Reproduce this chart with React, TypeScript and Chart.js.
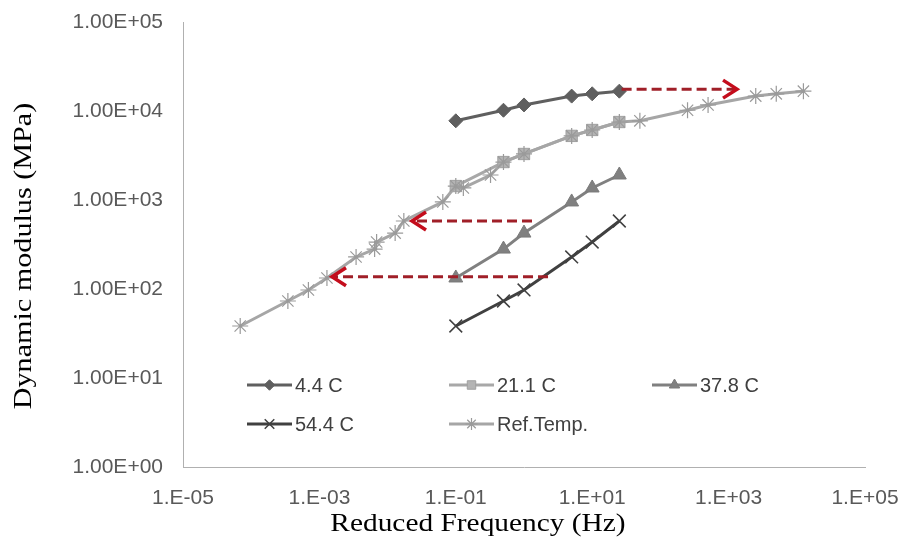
import React, { useEffect, useRef } from 'react';
import { Chart, registerables } from 'chart.js';

Chart.register(...registerables);

// ---------- data ----------
const freqHz = [0.1, 0.5, 1, 5, 10, 25];
const modulus4_4C = [7760, 10200, 11700, 14700, 15600, 16700];
const modulus21_1C = [1435, 2670, 3290, 5250, 6120, 7520];
const modulus37_8C = [133, 281, 425, 951, 1365, 1910];
const modulus54_4C = [38.4, 73.3, 97.5, 229, 337, 581];

const refFreq = [
  6.9e-5, 3.45e-4, 6.9e-4, 1.29e-3, 3.45e-3, 6.45e-3, 6.9e-3, 1.29e-2, 1.73e-2, 6.45e-2,
  0.1, 0.129, 0.323, 0.5, 1, 5, 10, 25, 50, 250, 500, 2500, 5000, 12500,
];
const refModulus = [
  38.4, 73.3, 97.5, 133, 229, 281, 337, 425, 581, 951,
  1435, 1365, 1910, 2670, 3290, 5250, 6120, 7520, 7760, 10200, 11700, 14700, 15600, 16700,
];

const arrowStartX = [27, 1.31, 2.25];
const arrowEndX = [1330, 0.0228, 1.53e-3];
const arrowY = [17600, 581, 137];

const seriesNames = ['4.4 C', '21.1 C', '37.8 C', '54.4 C', 'Ref.Temp.'];

const xTickValues = [1e-5, 1e-3, 1e-1, 1e1, 1e3, 1e5];
const xTickLabels = ['1.E-05', '1.E-03', '1.E-01', '1.E+01', '1.E+03', '1.E+05'];
const yTickValues = [1, 10, 100, 1000, 10000, 100000];
const yTickLabels = ['1.00E+00', '1.00E+01', '1.00E+02', '1.00E+03', '1.00E+04', '1.00E+05'];

const xTitle = 'Reduced Frequency (Hz)';
const yTitle = 'Dynamic modulus (MPa)';

// ---------- styles ----------
const seriesStyles = [
  { line: '#5f5f5f', fill: '#5f5f5f', stroke: '#5f5f5f', point: 'rectRot', radius: 7, pbw: 1 },
  { line: '#a8a8a8', fill: '#b4b4b4', stroke: '#a0a0a0', point: 'rect', radius: 8, pbw: 1 },
  { line: '#808080', fill: '#808080', stroke: '#7a7a7a', point: 'triangle', radius: 8, pbw: 1 },
  { line: '#404040', fill: '#404040', stroke: '#404040', point: 'crossRot', radius: 9, pbw: 1.5 },
  { line: '#a6a6a6', fill: '#a0a0a0', stroke: '#9a9a9a', point: 'star', radius: 8, pbw: 1.2 },
];
const legendPos = [
  { x: 247, y: 385 },
  { x: 449, y: 385 },
  { x: 652, y: 385 },
  { x: 247, y: 424 },
  { x: 449, y: 424 },
];

function toPts(xs: number[], ys: number[]) {
  return xs.map((x, i) => ({ x, y: ys[i] }));
}

function drawMarker(ctx: CanvasRenderingContext2D, style: string, x: number, y: number, r: number, fill: string, stroke: string, lw: number) {
  ctx.save();
  ctx.fillStyle = fill;
  ctx.strokeStyle = stroke;
  ctx.lineWidth = lw;
  ctx.beginPath();
  if (style === 'rectRot') {
    ctx.moveTo(x, y - r); ctx.lineTo(x + r, y); ctx.lineTo(x, y + r); ctx.lineTo(x - r, y); ctx.closePath();
    ctx.fill(); ctx.stroke();
  } else if (style === 'rect') {
    const s = r * Math.SQRT1_2;
    ctx.rect(x - s, y - s, 2 * s, 2 * s); ctx.fill(); ctx.stroke();
  } else if (style === 'triangle') {
    const h = r * 0.866;
    ctx.moveTo(x, y - r); ctx.lineTo(x + h, y + r / 2); ctx.lineTo(x - h, y + r / 2); ctx.closePath();
    ctx.fill(); ctx.stroke();
  } else if (style === 'crossRot' || style === 'star') {
    const d = r * Math.SQRT1_2;
    ctx.moveTo(x - d, y - d); ctx.lineTo(x + d, y + d);
    ctx.moveTo(x + d, y - d); ctx.lineTo(x - d, y + d);
    if (style === 'star') {
      ctx.moveTo(x, y - r); ctx.lineTo(x, y + r);
      ctx.moveTo(x - r, y); ctx.lineTo(x + r, y);
    }
    ctx.stroke();
  }
  ctx.restore();
}

const decorPlugin = {
  id: 'decor',
  afterDatasetsDraw(chart: any) {
    const ctx: CanvasRenderingContext2D = chart.ctx;
    chart.data.datasets.forEach((ds: any, i: number) => {
      if (!ds.isArrow) return;
      const meta = chart.getDatasetMeta(i);
      const p0 = meta.data[0];
      const p1 = meta.data[1];
      if (!p0 || !p1) return;
      const dir = p1.x > p0.x ? 1 : -1;
      ctx.save();
      ctx.strokeStyle = '#c40d1c';
      ctx.lineWidth = 3.5;
      ctx.lineJoin = 'miter';
      ctx.beginPath();
      ctx.moveTo(p1.x - dir * 14, p1.y - 9);
      ctx.lineTo(p1.x, p1.y);
      ctx.lineTo(p1.x - dir * 14, p1.y + 9);
      ctx.stroke();
      ctx.restore();
    });
  },
  afterDraw(chart: any) {
    const ctx: CanvasRenderingContext2D = chart.ctx;
    // legend
    ctx.save();
    seriesNames.forEach((name, i) => {
      const st = seriesStyles[i];
      const p = legendPos[i];
      ctx.strokeStyle = st.line;
      ctx.lineWidth = 3;
      ctx.beginPath();
      ctx.moveTo(p.x, p.y);
      ctx.lineTo(p.x + 45, p.y);
      ctx.stroke();
      drawMarker(ctx, st.point, p.x + 22.5, p.y, st.radius * 0.75, st.fill, st.stroke, st.pbw);
      ctx.fillStyle = '#404040';
      ctx.font = '20px "Liberation Sans", Arial, sans-serif';
      ctx.textAlign = 'left';
      ctx.textBaseline = 'middle';
      ctx.fillText(name, p.x + 48, p.y + 1);
    });
    ctx.restore();

    // axis titles
    ctx.save();
    ctx.fillStyle = '#000000';
    ctx.font = '26px "Liberation Serif", "Times New Roman", serif';
    ctx.textAlign = 'center';
    ctx.textBaseline = 'alphabetic';
    ctx.translate(478, 531);
    ctx.scale(1.13, 1);
    ctx.fillText(xTitle, 0, 0);
    ctx.restore();

    ctx.save();
    ctx.fillStyle = '#000000';
    ctx.font = '26px "Liberation Serif", "Times New Roman", serif';
    ctx.textAlign = 'center';
    ctx.textBaseline = 'alphabetic';
    ctx.translate(31, 256);
    ctx.rotate(-Math.PI / 2);
    ctx.scale(1.16, 1);
    ctx.fillText(yTitle, 0, 0);
    ctx.restore();
  },
};

export default function App() {
  const ref = useRef<HTMLCanvasElement>(null);
  useEffect(() => {
    document.body.style.margin = '0';
    const canvas = ref.current!;
    const seriesData = [modulus4_4C, modulus21_1C, modulus37_8C, modulus54_4C];
    const datasets: any[] = [];
    seriesData.forEach((m, i) => {
      const st = seriesStyles[i];
      datasets.push({
        label: seriesNames[i],
        data: toPts(freqHz, m),
        showLine: true,
        borderColor: st.line,
        borderWidth: 3,
        pointStyle: st.point,
        pointRadius: st.radius,
        pointBackgroundColor: st.fill,
        pointBorderColor: st.stroke,
        pointBorderWidth: st.pbw,
        order: 5 - i,
      });
    });
    const rs = seriesStyles[4];
    datasets.push({
      label: seriesNames[4],
      data: toPts(refFreq, refModulus),
      showLine: true,
      borderColor: rs.line,
      borderWidth: 3,
      pointStyle: rs.point,
      pointRadius: rs.radius,
      pointBackgroundColor: rs.fill,
      pointBorderColor: rs.stroke,
      pointBorderWidth: rs.pbw,
      order: 1,
    });
    arrowStartX.forEach((sx, i) => {
      datasets.push({
        label: 'arrow' + i,
        isArrow: true,
        data: [{ x: sx, y: arrowY[i] }, { x: arrowEndX[i], y: arrowY[i] }],
        showLine: true,
        borderColor: '#a01f28',
        borderWidth: 3,
        borderDash: [10, 5],
        pointRadius: 0,
        order: 0,
      });
    });

    const tickFont = { family: '"Liberation Sans", Arial, sans-serif', size: 21 };
    const chart = new Chart(canvas, {
      type: 'scatter',
      data: { datasets },
      plugins: [decorPlugin],
      options: {
        animation: false,
        responsive: false,
        devicePixelRatio: 1,
        layout: { padding: { top: 22, right: 38, left: 0, bottom: 0 } },
        plugins: { legend: { display: false }, tooltip: { enabled: false } },
        scales: {
          x: {
            type: 'logarithmic',
            position: 'bottom',
            min: 1e-5,
            max: 1e5,
            grid: { display: false, drawTicks: false },
            border: { display: true, color: '#b0b0b0', width: 1 },
            ticks: {
              font: tickFont,
              color: '#595959',
              padding: 19,
              autoSkip: false,
              maxRotation: 0,
              callback: (_v: any, idx: number) => xTickLabels[idx],
            },
            afterBuildTicks: (s: any) => {
              s.ticks = xTickValues.map((v) => ({ value: v }));
            },
            afterFit: (s: any) => {
              s.height = 71;
              s.paddingLeft = 0;
              s.paddingRight = 0;
            },
          },
          y: {
            type: 'logarithmic',
            position: 'left',
            min: 1,
            max: 1e5,
            grid: { display: false, drawTicks: false },
            border: { display: true, color: '#b0b0b0', width: 1 },
            ticks: {
              font: tickFont,
              color: '#595959',
              padding: 20,
              autoSkip: false,
              callback: (_v: any, idx: number) => yTickLabels[idx],
            },
            afterBuildTicks: (s: any) => {
              s.ticks = yTickValues.map((v) => ({ value: v }));
            },
            afterFit: (s: any) => {
              s.width = 183;
              s.paddingTop = 0;
              s.paddingBottom = 0;
            },
          },
        },
      } as any,
    });
    return () => chart.destroy();
  }, []);
  return (
    <div style={{ width: 903, height: 538 }}>
      <canvas ref={ref} width={903} height={538} style={{ display: 'block' }} />
    </div>
  );
}
